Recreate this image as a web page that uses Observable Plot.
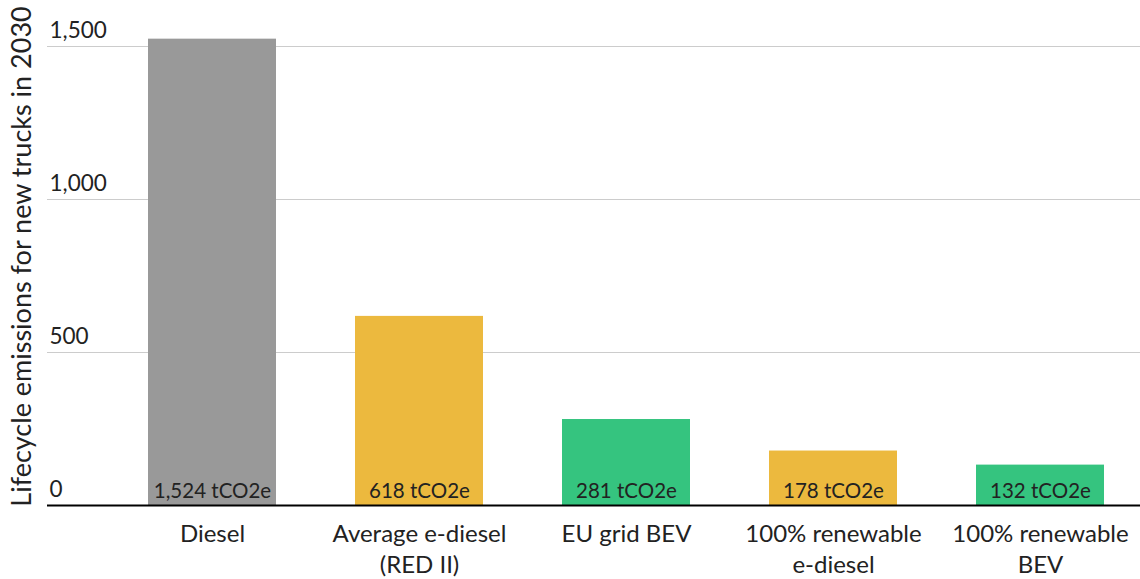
<!DOCTYPE html>
<html><head><meta charset="utf-8">
<script src="https://cdn.jsdelivr.net/npm/d3@7"></script>
<script src="https://cdn.jsdelivr.net/npm/@observablehq/plot@0.6"></script>
<style>body{margin:0;background:#fff}</style>
</head><body><div id="chart"></div>
<script>
const categories = ["Diesel", "Average e-diesel\n(RED II)", "EU grid BEV", "100% renewable\ne-diesel", "100% renewable\nBEV"];
const values = [1524, 618, 281, 178, 132];
const valueLabels = ["1,524 tCO2e", "618 tCO2e", "281 tCO2e", "178 tCO2e", "132 tCO2e"];
const barColors = ["#999999", "#ecb93e", "#35c47f", "#ecb93e", "#35c47f"];
const yTicks = [0, 500, 1000, 1500];
const yTitle = "Lifecycle emissions for new trucks in 2030";

const data = categories.map((c, i) => ({category: c, value: values[i], label: valueLabels[i], color: barColors[i]}));

const chart = Plot.plot({
  width: 1140, height: 579,
  marginLeft: 47, marginRight: 0, marginTop: 7, marginBottom: 74,
  style: {fontFamily: "Lato, sans-serif", background: "white", color: "#222"},
  x: {domain: categories, range: [108, 1145], paddingInner: 0.38, paddingOuter: 0.19, axis: null},
  y: {domain: [0, 1500], range: [505, 46], axis: null},
  marks: [
    Plot.ruleY(yTicks.slice(1), {stroke: "#cccccc", strokeWidth: 1}),
    Plot.barY(data, {x: "category", y: "value", fill: "color"}),
    Plot.ruleY([0], {stroke: "#000", strokeWidth: 2}),
    Plot.text(yTicks, {y: d => d, text: d => d3.format(",")(d), frameAnchor: "left", textAnchor: "start", lineAnchor: "bottom", dx: 2, dy: -9, fontSize: 22.5, fill: "#222"}),
    Plot.text(data, {x: "category", y: 0, text: "label", lineAnchor: "bottom", dy: -8, fontSize: 20.5, fill: "#222"}),
    Plot.text(data, {x: "category", frameAnchor: "bottom", text: "category", lineAnchor: "top", dy: 14, lineHeight: 1.3, fontSize: 24, fill: "#222"}),
    Plot.text([yTitle], {frameAnchor: "left", textAnchor: "middle", lineAnchor: "middle", rotate: -90, dx: -25, fontSize: 27, fill: "#222"})
  ]
});
document.getElementById("chart").append(chart);
</script>
</body></html>
